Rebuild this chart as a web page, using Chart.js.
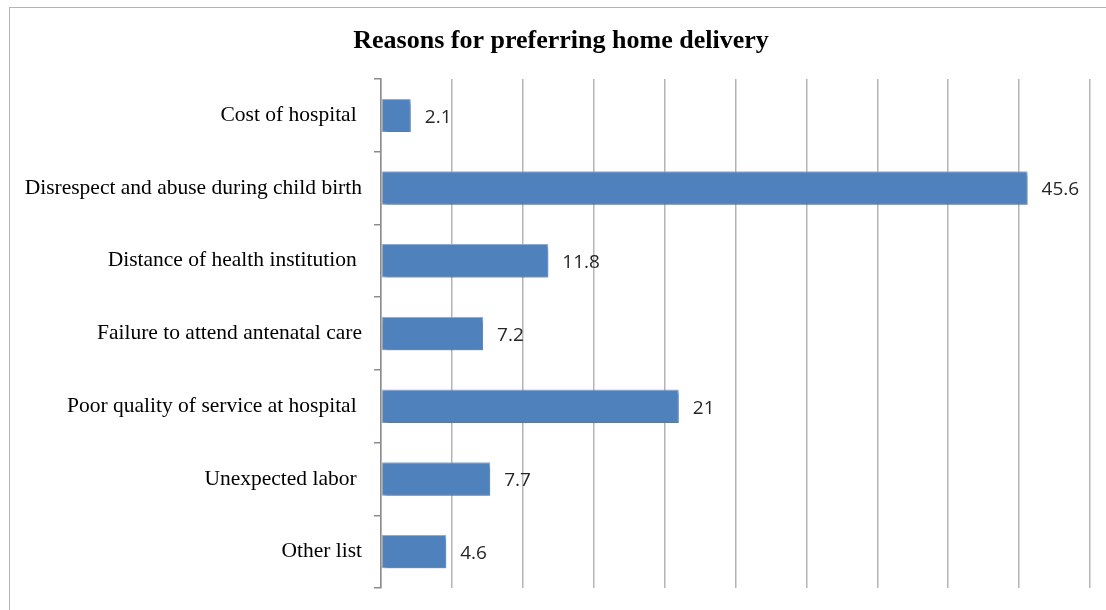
<!DOCTYPE html>
<html>
<head>
<meta charset="utf-8">
<script src="https://cdn.jsdelivr.net/npm/chart.js@4"></script>
<style>
  html, body { margin: 0; padding: 0; background: #fff; overflow: hidden; }
  #wrap { position: relative; width: 1106px; height: 610px; }
  #frame { position: absolute; left: 9px; top: 7px; width: 1200px; height: 700px;
           border-top: 1.5px solid #b4b4b4; border-left: 1.5px solid #b4b4b4; }
  canvas { position: absolute; left: 0; top: 0; }
</style>
</head>
<body>
<div id="wrap">
  <div id="frame"></div>
  <canvas id="chart" width="1106" height="610"></canvas>
</div>
<script>
// Reasons for preferring home delivery (percent)
const chartTitle = 'Reasons for preferring home delivery';
const reasons = [
  'Cost of hospital ',
  'Disrespect and abuse during child birth',
  'Distance of health institution ',
  'Failure to attend antenatal care',
  'Poor quality of service at hospital ',
  'Unexpected labor ',
  'Other list',
];
const percents = [2.1, 45.6, 11.8, 7.2, 21, 7.7, 4.6];
const valueLabels = ['2.1', '45.6', '11.8', '7.2', '21', '7.7', '4.6'];

const xMax = 50;
const xStep = 5;

const serif = '"Liberation Serif", "Times New Roman", serif';

// title sits a bit right of the canvas centre, so draw it by hand
const titleText = {
  id: 'titleText',
  afterDraw(chart) {
    const c = chart.ctx;
    c.save();
    c.fillStyle = '#000';
    c.font = 'bold 26px ' + serif;
    c.textAlign = 'center';
    c.textBaseline = 'middle';
    c.fillText(chartTitle, 561, 41);
    c.restore();
  },
};

// soft drop shadow under the bars, like the office chart
const barShadow = {
  id: 'barShadow',
  beforeDatasetsDraw(chart) {
    const c = chart.ctx;
    c.save();
    c.shadowColor = 'rgba(0,0,0,0.35)';
    c.shadowBlur = 4;
    c.shadowOffsetX = 2;
    c.shadowOffsetY = 3;
  },
  afterDatasetsDraw(chart) {
    chart.ctx.restore();
  },
};

// value labels to the right of each bar
const valueText = {
  id: 'valueText',
  afterDatasetsDraw(chart) {
    const c = chart.ctx;
    const meta = chart.getDatasetMeta(0);
    c.save();
    c.fillStyle = '#262626';
    c.font = '19px "Open Sans", sans-serif';
    c.textAlign = 'left';
    c.textBaseline = 'middle';
    meta.data.forEach((bar, i) => {
      c.fillText(valueLabels[i], bar.x + 14, bar.y + 2);
    });
    c.restore();
  },
};

new Chart(document.getElementById('chart'), {
  type: 'bar',
  data: {
    labels: reasons,
    datasets: [{
      data: percents,
      backgroundColor: '#4f81bd',
      borderColor: '#8fb0da',
      borderWidth: 1,
      borderSkipped: false,
      barPercentage: 0.46,
      categoryPercentage: 1,
    }],
  },
  options: {
    indexAxis: 'y',
    responsive: false,
    animation: false,
    layout: { padding: { left: 0, right: 16, top: 79, bottom: 22 } },
    plugins: {
      legend: { display: false },
      tooltip: { enabled: false },
      title: { display: false },
    },
    scales: {
      x: {
        min: 0,
        max: xMax,
        afterFit(scale) { scale.height = 0; },
        ticks: { display: false, stepSize: xStep },
        grid: { color: '#b4b4b4', lineWidth: 1.5, drawTicks: false },
        border: { display: false },
      },
      y: {
        afterFit(scale) {
          scale.width = 381;
          scale.paddingTop = 0;
          scale.paddingBottom = 0;
        },
        ticks: {
          color: '#000',
          padding: 12,
          font: { family: serif, size: 21.5 },
        },
        grid: { drawOnChartArea: false, drawTicks: true, tickLength: 7, color: '#8c8c8c', lineWidth: 1.5 },
        border: { color: '#8c8c8c', width: 1.5 },
      },
    },
  },
  plugins: [titleText, barShadow, valueText],
});
</script>
</body>
</html>
